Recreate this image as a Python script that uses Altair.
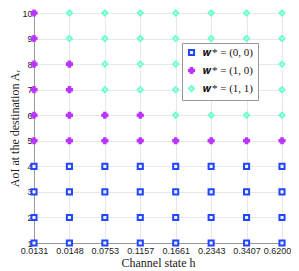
import altair as alt
import pandas as pd

h_labels = ["0.0131", "0.0148", "0.0753", "0.1157", "0.1661", "0.2343", "0.3407", "0.6200"]
# highest AoI value (inclusive) for each policy per channel state
w00_max = [4, 4, 4, 4, 4, 4, 4, 4]
w10_max = [10, 8, 6, 6, 5, 5, 5, 5]
aoi_values = list(range(1, 11))
policies = ["𝒘* = (0, 0)", "𝒘* = (1, 0)", "𝒘* = (1, 1)"]

rows = []
for i, h in enumerate(h_labels):
    for a in aoi_values:
        if a <= w00_max[i]:
            p = policies[0]
        elif a <= w10_max[i]:
            p = policies[1]
        else:
            p = policies[2]
        rows.append({"h": h, "A": a, "w": p})
df = pd.DataFrame(rows)

colors = ["#2246ff", "#bb33ff", "#6effd0"]
fills = ["#eef0ff", "#bb33ff", "#eefff9"]
plus = "M-0.3,-1H0.3V-0.3H1V0.3H0.3V1H-0.3V0.3H-1V-0.3H-0.3Z"
shapes = ["square", plus, "diamond"]

leg = alt.Legend(title=None, orient="none", legendX=148, legendY=30)

chart = alt.Chart(df).mark_point(size=26, strokeWidth=2, opacity=1, fillOpacity=1).encode(
    x=alt.X("h:O", sort=h_labels, scale=alt.Scale(type="point", padding=0),
            axis=alt.Axis(title="Channel state h", labelAngle=0,
                          labelOffset={"condition": {"test": "datum.value == '0.6200'", "value": -5}, "value": 0})),
    y=alt.Y("A:Q", scale=alt.Scale(domain=[1, 10], nice=False, zero=False),
            axis=alt.Axis(title="AoI at the destination Aᵣ", values=aoi_values, format="d", labelPadding=2)),
    color=alt.Color("w:N", scale=alt.Scale(domain=policies, range=colors), legend=leg),
    fill=alt.Fill("w:N", scale=alt.Scale(domain=policies, range=fills), legend=leg),
    shape=alt.Shape("w:N", scale=alt.Scale(domain=policies, range=shapes), legend=leg),
).properties(
    width=248, height=230, autosize=alt.AutoSizeParams(type="none"),
    padding={"left": 26, "top": 5, "right": 9, "bottom": 28}
).configure_view(
    stroke="#999999", strokeWidth=1
).configure_axis(
    grid=True, gridColor="#e8e8e8", gridWidth=1, domainColor="#999999",
    ticks=False, labelFont="Liberation Sans", labelFontSize=9, labelColor="#222222",
    titleFont="Liberation Serif", titleFontSize=12, titleFontWeight="normal", titleColor="#222222",
    labelPadding=3
).configure_axisX(
    titlePadding=2
).configure_axisY(
    titlePadding=0
).configure_legend(
    strokeColor="#999999", fillColor="white", padding=4, labelFont="Liberation Serif",
    labelFontSize=11, labelColor="#111111", symbolSize=26, symbolStrokeWidth=2, rowPadding=3,
    cornerRadius=0, labelOffset=6
)

chart.save("out.html", embed_options={"renderer": "svg", "actions": False})
